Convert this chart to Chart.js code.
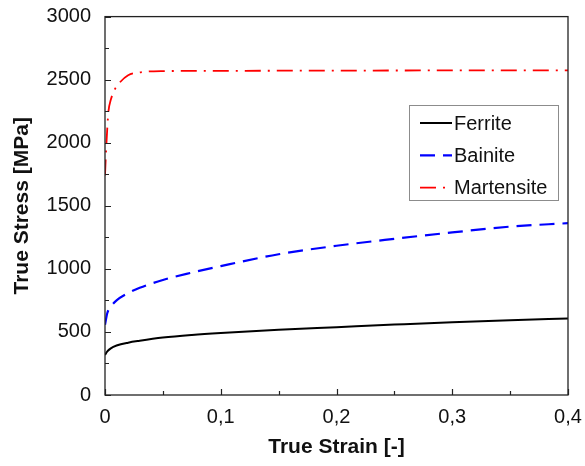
<!DOCTYPE html>
<html>
<head>
<meta charset="utf-8">
<script src="https://cdn.jsdelivr.net/npm/chart.js@4.4.0/dist/chart.umd.min.js"></script>
<style>
  body { margin: 0; background: #fff; }
</style>
</head>
<body>
<canvas id="stressChart" width="585" height="466"></canvas>
<script>
// Flow curves of the three phases (true strain [-] vs true stress [MPa])
const seriesNames = ['Ferrite', 'Bainite', 'Martensite'];

const ferriteStrain = [0, 0.002, 0.005, 0.01, 0.02, 0.03, 0.05, 0.075, 0.1, 0.15, 0.2, 0.25, 0.3, 0.35, 0.4];
const ferriteStress = [318, 346, 370, 392, 415, 430, 455, 476, 492, 518, 538, 558, 577, 593, 606];

const bainiteStrain = [0, 0.002, 0.005, 0.01, 0.02, 0.03, 0.05, 0.075, 0.1, 0.15, 0.2, 0.25, 0.3, 0.35, 0.4];
const bainiteStress = [556, 650, 700, 750, 808, 850, 912, 970, 1022, 1116, 1183, 1238, 1289, 1335, 1362];

const martensiteStrain = [0, 0.001, 0.002, 0.003, 0.005, 0.008, 0.012, 0.02, 0.03, 0.05, 0.1, 0.2, 0.3, 0.4];
const martensiteStress = [1740, 1950, 2120, 2250, 2340, 2415, 2470, 2535, 2558, 2568, 2570, 2572, 2573, 2573];

const yTicks = [0, 500, 1000, 1500, 2000, 2500, 3000];
const xTicks = [0, 0.1, 0.2, 0.3, 0.4];

const FONT = "'Liberation Sans', Arial, sans-serif";

function toPoints(xs, ys) {
    return xs.map((x, i) => ({ x: x, y: ys[i] }));
}

// box around the plot, inward ticks on left/bottom, legend inside the plot
const framePlugin = {
    id: 'frameTicks',
    afterDatasetsDraw(chart) {
        const { ctx, chartArea: a, scales } = chart;
        ctx.save();
        ctx.strokeStyle = '#222';
        ctx.lineWidth = 1.3;
        ctx.strokeRect(a.left, a.top, a.right - a.left, a.bottom - a.top);

        ctx.lineWidth = 1.2;
        ctx.beginPath();
        for (let v = 0; v <= 3000; v += 250) {
            const y = Math.round(scales.y.getPixelForValue(v)) + 0.5;
            const len = v % 500 === 0 ? 6 : 4;
            ctx.moveTo(a.left, y);
            ctx.lineTo(a.left + len, y);
        }
        for (let i = 0; i <= 8; i++) {
            const v = i * 0.05;
            const x = Math.round(scales.x.getPixelForValue(v)) + 0.5;
            const len = i % 2 === 0 ? 6 : 4;
            ctx.moveTo(x, a.bottom);
            ctx.lineTo(x, a.bottom - len);
        }
        ctx.stroke();

        // legend
        const box = { x: 409.5, y: 105.5, w: 149, h: 95 };
        ctx.fillStyle = '#fff';
        ctx.fillRect(box.x, box.y, box.w, box.h);
        ctx.strokeStyle = '#8c8c8c';
        ctx.lineWidth = 1;
        ctx.strokeRect(box.x, box.y, box.w, box.h);

        ctx.font = '20px ' + FONT;
        ctx.textBaseline = 'middle';
        ctx.textAlign = 'left';
        chart.data.datasets.forEach((ds, i) => {
            const y = 123 + i * 32.3;
            ctx.strokeStyle = ds.borderColor;
            ctx.lineWidth = ds.borderWidth;
            ctx.setLineDash(ds.borderDash || []);
            ctx.beginPath();
            ctx.moveTo(420, y);
            ctx.lineTo(452, y);
            ctx.stroke();
            ctx.setLineDash([]);
            ctx.fillStyle = '#111';
            ctx.fillText(ds.label, 454, y + 1);
        });
        ctx.restore();
    }
};

const ctx = document.getElementById('stressChart').getContext('2d');
new Chart(ctx, {
    type: 'line',
    data: {
        datasets: [
            {
                label: seriesNames[0],
                data: toPoints(ferriteStrain, ferriteStress),
                borderColor: '#000000',
                borderWidth: 2,
                borderDash: []
            },
            {
                label: seriesNames[1],
                data: toPoints(bainiteStrain, bainiteStress),
                borderColor: '#0000ff',
                borderWidth: 2.2,
                borderDash: [15, 8]
            },
            {
                label: seriesNames[2],
                data: toPoints(martensiteStrain, martensiteStress),
                borderColor: '#ff0000',
                borderWidth: 1.8,
                borderDash: [16, 7, 2, 7]
            }
        ]
    },
    options: {
        responsive: false,
        animation: false,
        layout: { padding: { top: 16.6, right: 17, left: 0, bottom: 0 } },
        elements: {
            point: { radius: 0 },
            line: { cubicInterpolationMode: 'monotone', fill: false }
        },
        plugins: {
            legend: { display: false },
            tooltip: { enabled: false }
        },
        scales: {
            x: {
                type: 'linear',
                min: 0,
                max: 0.4,
                afterFit: s => {
                    s.height = 71;
                    s.paddingLeft = 0;
                    s.paddingRight = 0;
                },
                afterBuildTicks: s => { s.ticks = xTicks.map(v => ({ value: v })); },
                grid: { display: false, drawTicks: false },
                border: { display: false },
                ticks: {
                    padding: 10,
                    color: '#111',
                    font: { family: FONT, size: 20 },
                    callback: v => v === 0 ? '0' : v.toFixed(1).replace('.', ',')
                },
                title: {
                    display: true,
                    text: 'True Strain [-]',
                    color: '#111',
                    font: { family: FONT, size: 21, weight: 'bold' },
                    padding: { top: 0, bottom: 6 }
                }
            },
            y: {
                min: 0,
                max: 3000,
                afterFit: s => {
                    s.width = 105;
                    s.paddingTop = 0;
                    s.paddingBottom = 0;
                },
                afterBuildTicks: s => { s.ticks = yTicks.map(v => ({ value: v })); },
                grid: { display: false, drawTicks: false },
                border: { display: false },
                ticks: {
                    padding: 14,
                    color: '#111',
                    font: { family: FONT, size: 20 },
                    callback: v => String(v)
                },
                title: {
                    display: true,
                    text: 'True Stress [MPa]',
                    color: '#111',
                    font: { family: FONT, size: 21, weight: 'bold' },
                    padding: { top: 10, bottom: 0 }
                }
            }
        }
    },
    plugins: [framePlugin]
});
</script>
</body>
</html>
